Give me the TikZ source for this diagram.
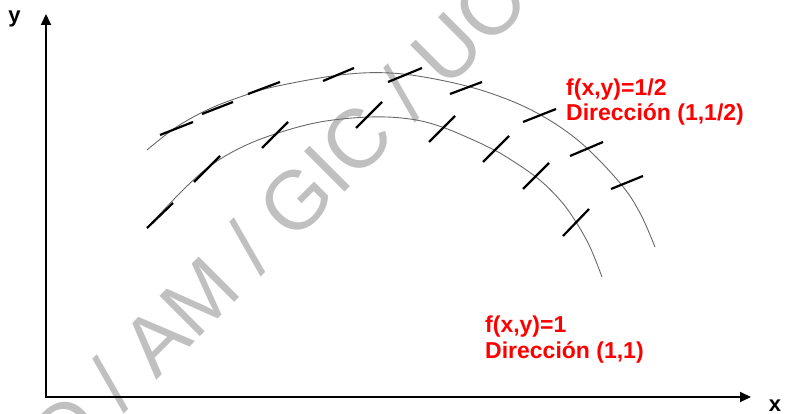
\documentclass[tikz,border=0pt]{standalone}
\usepackage{fontspec}
\setmainfont{Liberation Sans}
\usetikzlibrary{arrows.meta}
\definecolor{wm}{RGB}{192,192,192}
\definecolor{lab}{RGB}{255,0,0}
\definecolor{arcc}{RGB}{105,105,105}
\begin{document}
\begin{tikzpicture}[x=1pt,y=-1pt,
  tickseg/.style={line width=2.2pt},
  curve/.style={draw=arcc, line width=0.9pt},
  axisline/.style={line width=2pt, line join=miter, {Triangle[length=11pt,width=10pt]}-{Triangle[length=11pt,width=10pt]}},
  lbl/.style={text=lab, font=\fontsize{23}{26}\selectfont\bfseries, anchor=base west, inner sep=0pt},
  axlbl/.style={font=\fontsize{22}{24}\selectfont\bfseries, inner sep=0pt}]
\useasboundingbox (0,0) rectangle (785,414);
% watermark
\node[rotate=45, anchor=base west, inner sep=0pt, text=wm, font=\fontsize{83}{90}\selectfont] (wmark) at (65,472) {D / AM / GIC / UC};
% level curves
\draw[curve] plot[smooth, tension=0.6] coordinates {(147,150) (175,128) (207,110) (240,97) (273,87) (340,75) (390,73) (440,80) (490,93) (537,113) (580,142) (620,183) (640,213) (655,247)};
\draw[curve] plot[smooth, tension=0.6] coordinates {(147,228) (160,214) (185,188) (210,166) (240,148) (275,134) (320,122) (370,117) (410,119) (442,127) (480,143) (500,153) (536,177) (560,200) (576,222) (590,247) (602,277)};
% direction field, f=1/2
\foreach \a/\b/\c/\d in {160/135/193/122, 202/114/233/102, 248/94/280/82, 323/81/354/68, 388/82/422/68, 450/94/482/82, 523/122/556/109, 570/156/603/142, 611/189/643/176}
  \draw[tickseg] (\a,\b) -- (\c,\d);
% direction field, f=1
\foreach \a/\b/\c/\d in {147/228/173/203, 194/182/220/156, 262/148/288/122, 356/128/382/102, 429/142/455/116, 483/162/509/136, 523/189/549/163, 563/236/589/209}
  \draw[tickseg] (\a,\b) -- (\c,\d);
% axes
\coordinate (O) at (46,397);
\coordinate (Y) at (46,14);
\coordinate (X) at (751,397);
\draw[axisline] (Y) -- (O) -- (X);
\node[axlbl] (ylab) at (14.5,18.5) {y};
\node[axlbl] (xlab) at (775,406) {x};
% labels
\node[lbl] (l1a) at (566,96) {f(x,y)=1/2};
\node[lbl] (l1b) at (566,121) {Dirección (1,1/2)};
\node[lbl] (l2a) at (485,333) {f(x,y)=1};
\node[lbl] (l2b) at (485,358) {Dirección (1,1)};
\end{tikzpicture}
\end{document}
